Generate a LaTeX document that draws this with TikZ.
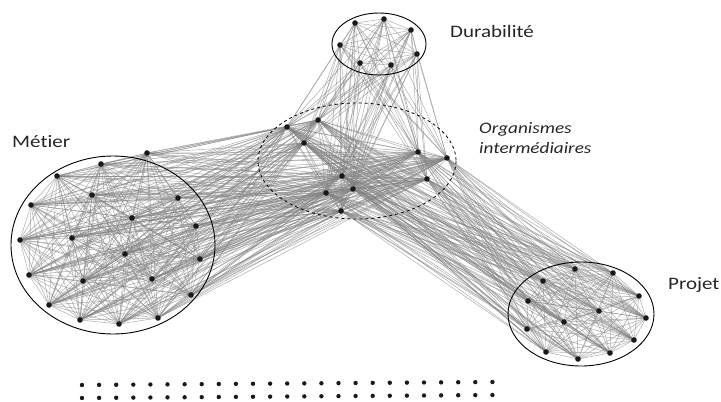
\documentclass[tikz,border=0pt]{standalone}
\usepackage{fontspec}
\setmainfont{Carlito}[FakeStretch=1.2,Ligatures=NoCommon]
\usetikzlibrary{backgrounds}
\tikzset{
  dot/.style={circle,fill=black!90,inner sep=0pt,minimum size=5.6pt},
  smalldot/.style={circle,fill=black!90,inner sep=0pt,minimum size=4.4pt},
  link/.style={draw=black!50,line width=0.55pt,opacity=0.6},
  group/.style={draw=black,line width=0.9pt},
  grouplabel/.style={anchor=base west,inner sep=0pt,text=black!85,font=\fontsize{17.5}{20}\selectfont},
  orglabel/.style={anchor=base west,inner sep=0pt,text=black!85,font=\fontsize{16}{19}\selectfont\itshape}
}
\begin{document}
\begin{tikzpicture}[x=1pt,y=-1pt]
\useasboundingbox (0,0) rectangle (721,402);
% Metier
\foreach \n/\p in {1/{101,164},2/{57,176},3/{147,153},4/{92,195},5/{178,198},6/{31,205},7/{132,218},8/{196,226},9/{20,240},10/{72,238},11/{125,254},12/{200,259},13/{29,275},14/{152,279},15/{83,281},16/{191,295},17/{49,305},18/{80,320},19/{119,324},20/{158,318}}
  \node[dot] (m\n) at (\p) {};
% Durabilite
\foreach \n/\p in {1/{355,23},2/{384,19},3/{411,30},4/{340,45},5/{417,54},6/{360,63},7/{391,65}}
  \node[dot] (d\n) at (\p) {};
% Organismes
\foreach \n/\p in {1/{287,127},2/{318,120},3/{304,143},4/{418,152},5/{447,158},6/{342,176},7/{427,179},8/{353,189},9/{326,193},10/{341,211}}
  \node[dot] (o\n) at (\p) {};
% Projet
\foreach \n/\p in {1/{575,269},2/{613,273},3/{543,281},4/{639,296},5/{528,301},6/{599,311},7/{646,318},8/{564,322},9/{527,329},10/{634,340},11/{546,352},12/{610,353},13/{578,359}}
  \node[dot] (p\n) at (\p) {};
% isolated nodes
\foreach \k in {0,...,24} {
  \node[smalldot] (ba\k) at ({82+17.1*\k},{385-3*\k/24}) {};
  \node[smalldot] (bb\k) at ({82+17.1*\k},{398-3*\k/24}) {};
}
\begin{scope}[on background layer]
% within groups
\foreach \i in {1,...,20}{\foreach \j in {\i,...,20}{\ifnum\j>\i \draw[link] (m\i.center) -- (m\j.center);\fi}}
\foreach \i in {1,...,7}{\foreach \j in {\i,...,7}{\ifnum\j>\i \draw[link] (d\i.center) -- (d\j.center);\fi}}
\foreach \i in {1,...,10}{\foreach \j in {\i,...,10}{\ifnum\j>\i \draw[link] (o\i.center) -- (o\j.center);\fi}}
\foreach \i in {1,...,13}{\foreach \j in {\i,...,13}{\ifnum\j>\i \draw[link] (p\i.center) -- (p\j.center);\fi}}
% between groups
\foreach \i in {1,...,20}{\foreach \j in {1,...,10}{\draw[link] (m\i.center) -- (o\j.center);}}
\foreach \i in {1,...,7}{\foreach \j in {1,...,10}{\draw[link] (d\i.center) -- (o\j.center);}}
\foreach \i in {1,...,10}{\foreach \j in {1,...,13}{\draw[link] (o\i.center) -- (p\j.center);}}
\end{scope}
% group outlines
\draw[group] (113,245) ellipse [x radius=102, y radius=89];
\draw[group] (379,44) ellipse [x radius=47, y radius=31];
\draw[group,dashed,line width=0.8pt] (357,161) ellipse [x radius=99, y radius=58];
\draw[group] (581,314) ellipse [x radius=73, y radius=52];
% labels
\node[grouplabel] (lm) at (12,147) {Métier};
\node[grouplabel] (ld) at (450,37.5) {Durabilité};
\node[grouplabel] (lp) at (668,289) {Projet};
\node[orglabel] (lo1) at (479,133) {Organismes};
\node[orglabel] (lo2) at (479,153) {intermédiaires};
\end{tikzpicture}
\end{document}
